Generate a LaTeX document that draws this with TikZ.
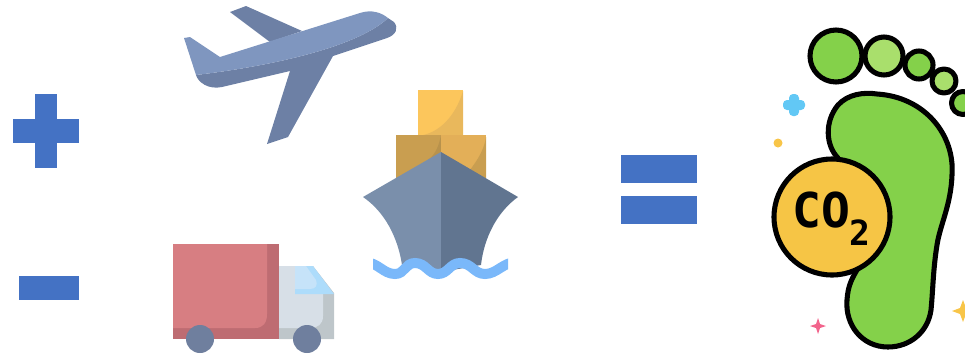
\documentclass[tikz,border=0pt]{standalone}
\usepackage{fontspec}
\usepackage{tikz}
\newfontfamily\cofont[Scale=1]{DejaVu Sans Mono}
\definecolor{signblue}{HTML}{4472C4}
\definecolor{planelight}{HTML}{7F96BF}
\definecolor{planedark}{HTML}{6D80A5}
\definecolor{boxred}{HTML}{D77E82}
\definecolor{boxreddark}{HTML}{BE6C72}
\definecolor{cabgrey}{HTML}{D7DFE7}
\definecolor{cabdark}{HTML}{BEC6CA}
\definecolor{glasslight}{HTML}{C6E3F9}
\definecolor{glassdark}{HTML}{ADDCFB}
\definecolor{wheelblue}{HTML}{6F7F9E}
\definecolor{crateyellow}{HTML}{FCC65C}
\definecolor{crateshade}{HTML}{E9B85C}
\definecolor{crateorange}{HTML}{E3AF58}
\definecolor{cratebrown}{HTML}{C99E50}
\definecolor{cratedeep}{HTML}{B8924C}
\definecolor{hullleft}{HTML}{7A8FAB}
\definecolor{hullright}{HTML}{617590}
\definecolor{wavesky}{HTML}{7AB8FA}
\definecolor{footgreen}{HTML}{84D14A}
\definecolor{toelight}{HTML}{A9DF6C}
\definecolor{coyellow}{HTML}{F6C545}
\definecolor{sparkblue}{HTML}{62C8F5}
\definecolor{sparkpink}{HTML}{F2648C}
\definecolor{sparkgold}{HTML}{F8C548}
\tikzset{
    inkline/.style={draw=black, line width=3.8pt, line join=round}
}

\begin{document}
\begin{tikzpicture}[x=0.75pt, y=-0.75pt]
    \clip (0,0) rectangle (965,354);

    % Signs
    \fill[signblue] (35,94) rectangle (57,168);
    \fill[signblue] (13,119) rectangle (79,143);
    \fill[signblue] (19,276) rectangle (79,300);
    \fill[signblue] (621,155) rectangle (697,183);
    \fill[signblue] (621,196) rectangle (697,224);

    % Plane
    \fill[planedark] (230,12) -- (246,6) -- (302,31) -- (270,42) -- cycle;
    \fill[planedark] (196,75) .. controls (198,82) and (208,90) .. (222,87)
        -- (290,71) -- (267,144) -- (288,137) -- (333,56) -- (387,38)
        .. controls (396,35) and (399,28) .. (394,22) -- (388,18)
        .. controls (360,45) and (280,65) .. (196,75) -- cycle;
    \fill[planelight] (184,38) -- (190,37) -- (220,57) -- (360,13)
        .. controls (372,9) and (382,13) .. (388,18)
        .. controls (360,45) and (280,65) .. (196,75) -- cycle;

    % Truck
    \fill[cabdark] (279,266) -- (313,266) -- (334,293) -- (334,339) -- (279,339) -- cycle;
    \fill[cabgrey] (279,266) -- (313,266) -- (323,293) -- (323,316)
        .. controls (323,324) and (318,328) .. (310,328) -- (279,328) -- cycle;
    \fill[glassdark] (295,266) -- (313,266) -- (334,294) -- (295,294) -- cycle;
    \fill[glasslight] (295,266) -- (306,266) -- (316,280)
        .. controls (318,285) and (316,289) .. (310,289) -- (295,289) -- cycle;
    \fill[boxreddark] (173,244) rectangle (279,339);
    \fill[boxred] (173,244) -- (267,244) -- (267,314)
        .. controls (267,323) and (263,328) .. (255,328) -- (173,328) -- cycle;
    \fill[wheelblue] (200,339) circle (14);
    \fill[wheelblue] (307,339) circle (14);

    % Ship
    \fill[crateyellow] (418,90) rectangle (463,135);
    \fill[crateshade] (463,91) .. controls (455,118) and (438,132) .. (423,135)
        -- (463,135) -- cycle;
    \fill[cratebrown] (396,135) rectangle (441,178);
    \fill[cratedeep] (441,135) -- (441,160) -- (428,160) .. controls (436,154) and (439,145) .. (441,135) -- cycle;
    \fill[crateorange] (441,135) rectangle (486,178);
    \fill[cratebrown] (486,137) .. controls (484,152) and (474,165) .. (466,175)
        -- (486,178) -- cycle;
    \fill[hullleft] (441,152) -- (363,197) .. controls (385,212) and (398,238) .. (402,265)
        -- (441,272) -- cycle;
    \fill[hullright] (441,152) -- (518,197) .. controls (497,212) and (484,238) .. (481,265)
        -- (441,272) -- cycle;
    \begin{scope}
        \clip (373,250) rectangle (508,285);
        \draw[wavesky, line width=7.5pt] (364,262)
            .. controls (378,262) and (383,274) .. (395,274)
            .. controls (405,274) and (405,263) .. (415,263)
            .. controls (426,263) and (428,274) .. (438,274)
            .. controls (448,274) and (450,263) .. (460,263)
            .. controls (472,263) and (474,274) .. (485,274)
            .. controls (497,274) and (503,262) .. (517,262);
    \end{scope}

    % Footprint
    \draw[inkline, fill=footgreen] (838,158)
        .. controls (826,146) and (824,122) .. (838,105)
        .. controls (848,94) and (864,92) .. (877,94)
        .. controls (925,97) and (955,135) .. (952,175)
        .. controls (951,205) and (940,225) .. (937,245)
        .. controls (933,270) and (933,290) .. (931,310)
        .. controls (928,332) and (910,347) .. (888,347)
        .. controls (862,347) and (845,325) .. (847,300)
        .. controls (848,285) and (852,278) .. (860,265) -- cycle;
    \draw[inkline, fill=footgreen] (836,56) circle (26);
    \draw[inkline, fill=toelight] (884,56) circle (19);
    \draw[inkline, fill=footgreen] (919,65) circle (14);
    \draw[inkline, fill=toelight] (944,81) circle (12);
    \draw[inkline, fill=footgreen] (963,103) circle (11.5);
    \draw[inkline, fill=coyellow] (832,217) circle (58);
    \node[inner sep=0pt] (co) at (821,210) {\cofont\bfseries\fontsize{36}{36}\selectfont CO};
    \node[inner sep=0pt] (two) at (860,233) {\cofont\bfseries\fontsize{26}{26}\selectfont 2};

    % Sparkles
    \fill[sparkblue, rounded corners=3pt] (789,94) rectangle (799,116);
    \fill[sparkblue, rounded corners=3pt] (783,100) rectangle (805,110);
    \fill[sparkgold] (778,143) circle (4.5);
    \fill[sparkpink] (818,318) -- (820,324) -- (826,326) -- (820,328) -- (818,334)
        -- (816,328) -- (810,326) -- (816,324) -- cycle;
    \fill[sparkgold] (963,300) -- (966,308) -- (974,311) -- (966,314) -- (963,322)
        -- (960,314) -- (952,311) -- (960,308) -- cycle;
\end{tikzpicture}
\end{document}
